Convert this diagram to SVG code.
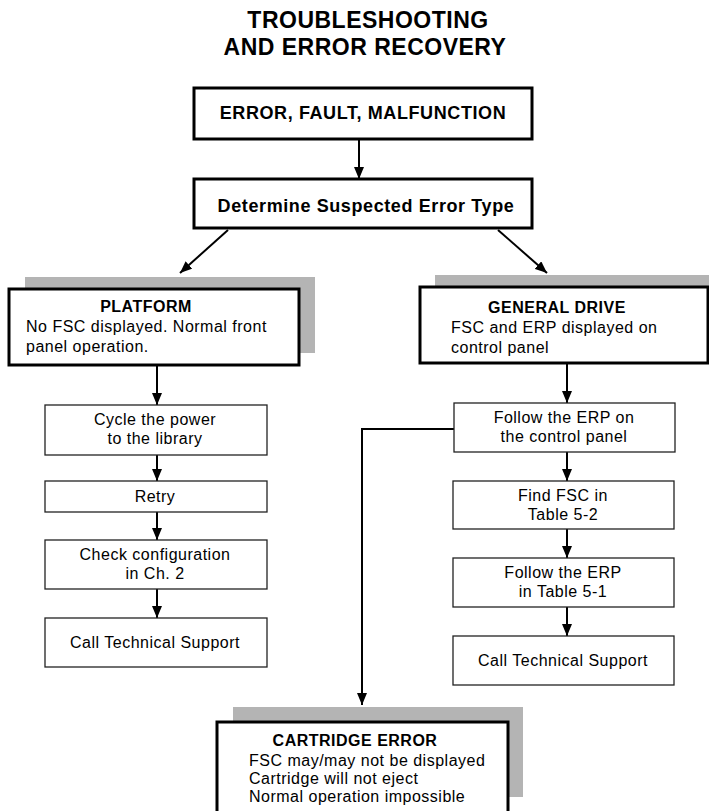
<svg xmlns="http://www.w3.org/2000/svg" width="709" height="811" viewBox="0 0 709 811">
<defs>
<marker id="ah" viewBox="0 0 12 10" refX="12" refY="5" markerWidth="12" markerHeight="10" markerUnits="userSpaceOnUse" orient="auto">
<path d="M0,0 L12,5 L0,10 z" fill="#000"/>
</marker>
<style>
text{font-family:"Liberation Sans",Arial,Helvetica,sans-serif;fill:#000}
.title{font-size:23px;font-weight:bold;letter-spacing:0.5px;text-anchor:middle}
.hd{font-size:18px;font-weight:bold;letter-spacing:0.6px;text-anchor:middle}
.bh{font-size:16px;font-weight:bold;letter-spacing:0.5px;text-anchor:middle}
.bt{font-size:16px;letter-spacing:0.5px}
.ct{font-size:16px;letter-spacing:0.5px;text-anchor:middle}
.big{fill:#fff;stroke:#000;stroke-width:3}
.sm{fill:#fff;stroke:#222;stroke-width:1.3}
.sh{fill:#b4b4b4}
.cn{stroke:#000;stroke-width:2;fill:none}
</style>
</defs>
<rect width="709" height="811" fill="#fff"/>
<g id="title">
<text class="title" x="368" y="28">TROUBLESHOOTING</text>
<text class="title" x="365" y="55">AND ERROR RECOVERY</text>
</g>
<g id="connectors">
<line class="cn" x1="359" y1="139" x2="359" y2="179" marker-end="url(#ah)"/>
<line class="cn" x1="228" y1="230" x2="180" y2="273" marker-end="url(#ah)"/>
<line class="cn" x1="498" y1="230" x2="547" y2="273" marker-end="url(#ah)"/>
<line class="cn" x1="157" y1="365" x2="157" y2="405" marker-end="url(#ah)"/>
<line class="cn" x1="157" y1="455" x2="157" y2="481" marker-end="url(#ah)"/>
<line class="cn" x1="157" y1="512" x2="157" y2="540" marker-end="url(#ah)"/>
<line class="cn" x1="157" y1="589" x2="157" y2="618" marker-end="url(#ah)"/>
<line class="cn" x1="567" y1="363" x2="567" y2="403" marker-end="url(#ah)"/>
<line class="cn" x1="567" y1="452" x2="567" y2="481" marker-end="url(#ah)"/>
<line class="cn" x1="567" y1="529" x2="567" y2="558" marker-end="url(#ah)"/>
<line class="cn" x1="567" y1="607" x2="567" y2="636" marker-end="url(#ah)"/>
<polyline class="cn" points="454,429 362,429 362,705" marker-end="url(#ah)"/>
</g>
<g id="error-fault">
<rect class="big" x="194" y="88" width="338" height="51"/>
<text class="hd" x="363" y="119">ERROR, FAULT, MALFUNCTION</text>
</g>
<g id="determine">
<rect class="big" x="194" y="179" width="338" height="49"/>
<text class="hd" x="366" y="212">Determine Suspected Error Type</text>
</g>
<g id="platform">
<rect class="sh" x="25" y="277" width="290" height="76"/>
<rect class="big" x="9" y="289" width="290" height="76"/>
<text class="bh" x="146" y="312">PLATFORM</text>
<text class="bt" x="26" y="332">No FSC displayed. Normal front</text>
<text class="bt" x="26" y="352">panel operation.</text>
</g>
<g id="general-drive">
<rect class="sh" x="435" y="275" width="288" height="76"/>
<rect class="big" x="420" y="287" width="288" height="76"/>
<text class="bh" x="557" y="313">GENERAL DRIVE</text>
<text class="bt" x="451" y="333">FSC and ERP displayed on</text>
<text class="bt" x="451" y="353">control panel</text>
</g>
<g id="cycle-power">
<rect class="sm" x="45" y="405" width="222" height="50"/>
<text class="ct" x="155" y="425">Cycle the power</text>
<text class="ct" x="155" y="444">to the library</text>
</g>
<g id="retry">
<rect class="sm" x="45" y="481" width="222" height="31"/>
<text class="ct" x="155" y="502">Retry</text>
</g>
<g id="check-config">
<rect class="sm" x="45" y="540" width="222" height="49"/>
<text class="ct" x="155" y="560">Check configuration</text>
<text class="ct" x="155" y="579">in Ch. 2</text>
</g>
<g id="call-support-left">
<rect class="sm" x="45" y="618" width="222" height="49"/>
<text class="ct" x="155" y="648">Call Technical Support</text>
</g>
<g id="follow-erp-panel">
<rect class="sm" x="454" y="403" width="221" height="49"/>
<text class="ct" x="564" y="423">Follow the ERP on</text>
<text class="ct" x="564" y="442">the control panel</text>
</g>
<g id="find-fsc">
<rect class="sm" x="453" y="481" width="221" height="48"/>
<text class="ct" x="563" y="501">Find FSC in</text>
<text class="ct" x="563" y="520">Table 5-2</text>
</g>
<g id="follow-erp-table">
<rect class="sm" x="453" y="558" width="221" height="49"/>
<text class="ct" x="563" y="578">Follow the ERP</text>
<text class="ct" x="563" y="597">in Table 5-1</text>
</g>
<g id="call-support-right">
<rect class="sm" x="453" y="636" width="221" height="49"/>
<text class="ct" x="563" y="666">Call Technical Support</text>
</g>
<g id="cartridge-error">
<rect class="sh" x="233" y="707" width="290" height="90"/>
<rect class="big" x="217" y="722" width="291" height="92"/>
<text class="bh" x="355" y="746">CARTRIDGE ERROR</text>
<text class="bt" x="249" y="766">FSC may/may not be displayed</text>
<text class="bt" x="249" y="784">Cartridge will not eject</text>
<text class="bt" x="249" y="802">Normal operation impossible</text>
</g>
</svg>
